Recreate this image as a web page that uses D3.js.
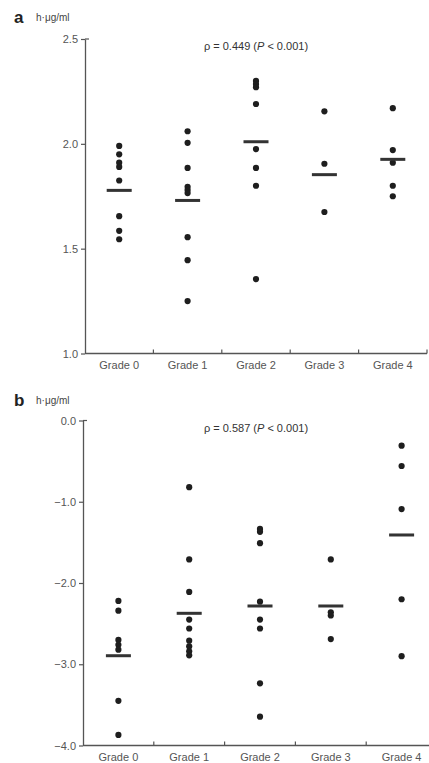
<!DOCTYPE html>
<html>
<head>
<meta charset="utf-8">
<script src="https://cdn.jsdelivr.net/npm/d3@7"></script>
<style>
body{margin:0;background:#fff;}
text{font-family:"Liberation Sans",Arial,sans-serif;}
</style>
</head>
<body>
<script>
var grades = ["Grade 0","Grade 1","Grade 2","Grade 3","Grade 4"];

// panel a: values per grade
var aGrade0 = [1.99,1.95,1.91,1.89,1.825,1.655,1.585,1.545];
var aGrade1 = [2.06,2.005,1.885,1.795,1.78,1.765,1.555,1.445,1.25];
var aGrade2 = [2.30,2.285,2.27,2.19,1.975,1.885,1.80,1.355];
var aGrade3 = [2.155,1.905,1.675];
var aGrade4 = [2.17,1.97,1.91,1.80,1.75];
var aMedians = [1.778,1.73,2.01,1.853,1.926];
var aTicks = [1.0,1.5,2.0,2.5];

// panel b
var bGrade0 = [-2.22,-2.34,-2.70,-2.76,-2.82,-3.45,-3.87];
var bGrade1 = [-0.82,-1.71,-2.11,-2.45,-2.56,-2.71,-2.78,-2.84,-2.89];
var bGrade2 = [-1.335,-1.37,-1.51,-2.23,-2.45,-2.56,-3.235,-3.645];
var bGrade3 = [-1.71,-2.36,-2.40,-2.69];
var bGrade4 = [-0.31,-0.56,-1.09,-2.20,-2.90];
var bMedians = [-2.895,-2.373,-2.283,-2.283,-1.409];
var bTicks = [-4.0,-3.0,-2.0,-1.0,0.0];

var width = 429;
var height = 763;

var svg = d3.select("body")
.append("svg")
.attr("width",width)
.attr("height",height);

function drawPanel(opt){
	var g = svg.append("g");

	var xScale = d3.scaleBand()
	.domain(grades)
	.range(opt.xRange);

	var yScale = d3.scaleLinear()
	.domain(opt.yDomain)
	.range(opt.yRange);

	// panel letter and unit
	g.append("text")
	.attr("x",14)
	.attr("y",opt.titleY)
	.attr("font-size","17px")
	.attr("font-weight","bold")
	.attr("fill","#222")
	.text(opt.letter);

	g.append("text")
	.attr("x",36)
	.attr("y",opt.titleY - 2)
	.attr("font-size","10px")
	.attr("fill","#444")
	.text("h·μg/ml");

	// y axis
	var yAxis = d3.axisLeft(yScale)
	.tickValues(opt.ticks)
	.tickFormat(d3.format(".1f"))
	.tickSizeInner(4)
	.tickSizeOuter(0)
	.tickPadding(3);

	var ya = g.append("g")
	.attr("transform","translate(" + opt.xRange[0] + ",0)")
	.call(yAxis);
	ya.select(".domain").attr("stroke","#555").attr("stroke-width",1.3);
	ya.selectAll(".tick line").attr("stroke","#555").attr("stroke-width",1.2);
	ya.selectAll(".tick text").attr("fill","#555").attr("font-size","11px")
	.attr("font-family","Liberation Sans, Arial, sans-serif");

	// small stub at the top of the axis
	g.append("line")
	.attr("x1",opt.xRange[0])
	.attr("x2",opt.xRange[0] + 4)
	.attr("y1",yScale(opt.yDomain[1]))
	.attr("y2",yScale(opt.yDomain[1]))
	.attr("stroke","#555")
	.attr("stroke-width",1.2);

	// x axis
	var base = yScale(opt.yDomain[0]);
	g.append("line")
	.attr("x1",opt.xRange[0])
	.attr("x2",opt.xRange[1])
	.attr("y1",base)
	.attr("y2",base)
	.attr("stroke","#555")
	.attr("stroke-width",1.3);

	g.selectAll(".xtick")
	.data(grades)
	.enter()
	.append("line")
	.attr("class","xtick")
	.attr("x1",function(d){ return xScale(d) + xScale.bandwidth(); })
	.attr("x2",function(d){ return xScale(d) + xScale.bandwidth(); })
	.attr("y1",base)
	.attr("y2",base - 4)
	.attr("stroke","#555")
	.attr("stroke-width",1.2);

	g.selectAll(".xlabel")
	.data(grades)
	.enter()
	.append("text")
	.attr("class","xlabel")
	.attr("x",function(d){ return xScale(d) + xScale.bandwidth()/2; })
	.attr("y",base + 15)
	.attr("text-anchor","middle")
	.attr("font-size","11px")
	.attr("fill","#555")
	.text(function(d){ return d; });

	// correlation note
	var note = g.append("text")
	.attr("x",256)
	.attr("y",opt.noteY)
	.attr("text-anchor","middle")
	.attr("font-size","11px")
	.attr("fill","#333");
	note.append("tspan").text("ρ = " + opt.rho + " (");
	note.append("tspan").attr("font-style","italic").text("P");
	note.append("tspan").text(" < 0.001)");

	// points
	opt.groups.forEach(function(vals,i){
		g.selectAll(".pt" + i)
		.data(vals)
		.enter()
		.append("circle")
		.attr("class","pt" + i)
		.attr("cx",xScale(grades[i]) + xScale.bandwidth()/2)
		.attr("cy",function(d){ return yScale(d); })
		.attr("r",3.1)
		.attr("fill","#1e1e1e");
	});

	// median bars
	g.selectAll(".med")
	.data(opt.medians)
	.enter()
	.append("rect")
	.attr("class","med")
	.attr("x",function(d,i){ return xScale(grades[i]) + xScale.bandwidth()/2 - 12.5; })
	.attr("y",function(d){ return yScale(d) - 1.5; })
	.attr("width",25)
	.attr("height",3)
	.attr("fill","#333");
}

drawPanel({
	letter:"a",
	titleY:23,
	noteY:50,
	rho:"0.449",
	xRange:[85,427],
	yDomain:[1.0,2.5],
	yRange:[353.5,39],
	ticks:aTicks,
	groups:[aGrade0,aGrade1,aGrade2,aGrade3,aGrade4],
	medians:aMedians
});

drawPanel({
	letter:"b",
	titleY:406,
	noteY:432,
	rho:"0.587",
	xRange:[83,437],
	yDomain:[-4.0,0.0],
	yRange:[745.5,420.5],
	ticks:bTicks,
	groups:[bGrade0,bGrade1,bGrade2,bGrade3,bGrade4],
	medians:bMedians
});
</script>
</body>
</html>
